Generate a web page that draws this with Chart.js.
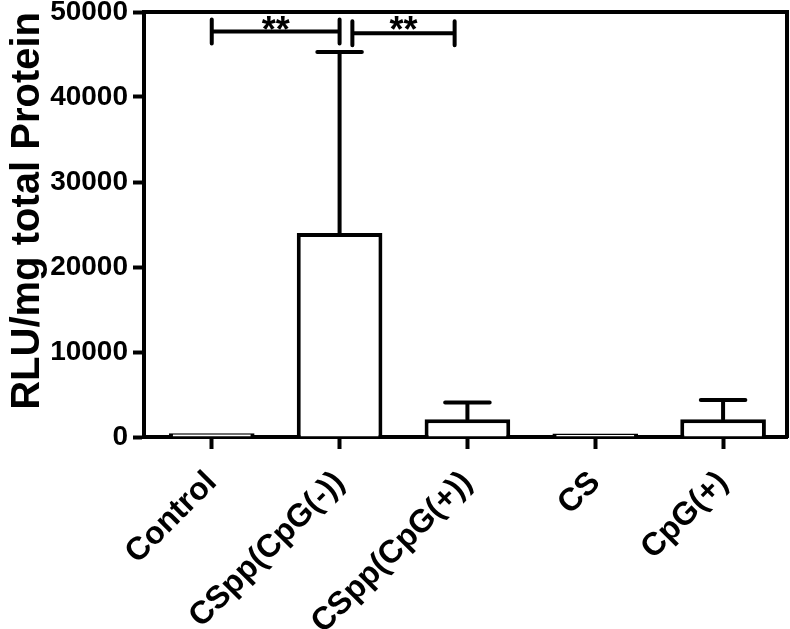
<!DOCTYPE html>
<html>
<head>
<meta charset="utf-8">
<script src="https://cdn.jsdelivr.net/npm/chart.js@4.4.1/dist/chart.umd.min.js"></script>
<style>
  html, body { margin: 0; padding: 0; background: #fff; }
  #wrap { width: 790px; height: 629px; }
</style>
</head>
<body>
<div id="wrap"><canvas id="chart"></canvas></div>
<script>
const categories = ['Control', 'CSpp(CpG(-))', 'CSpp(CpG(+))', 'CS', 'CpG(+)'];
const means = [450, 24000, 2100, 420, 2100];
const errUp = [0, 21300, 1950, 0, 2250];
const yTicks = [0, 10000, 20000, 30000, 40000, 50000];

// significance brackets (category index positions, bracket height)
const sigFrom = [0, 1.1];
const sigTo = [1, 1.9];
const sigY = [47700, 47500];
const sigText = ['**', '**'];
const sigTextY = [46500, 46500];

const FONT = "'Liberation Sans', Arial, Helvetica, sans-serif";

const errorBars = {
  id: 'errorBars',
  afterDatasetsDraw(chart) {
    const { ctx, scales: { y } } = chart;
    const meta = chart.getDatasetMeta(0);
    ctx.save();
    ctx.strokeStyle = '#000';
    ctx.lineWidth = 4;
    ctx.lineCap = 'round';
    meta.data.forEach((bar, i) => {
      if (!errUp[i]) return;
      const top = y.getPixelForValue(means[i] + errUp[i]);
      const base = y.getPixelForValue(means[i]);
      const half = bar.width * 0.26;
      ctx.beginPath();
      ctx.moveTo(bar.x, base);
      ctx.lineTo(bar.x, top);
      ctx.moveTo(bar.x - half, top);
      ctx.lineTo(bar.x + half, top);
      ctx.stroke();
    });
    ctx.restore();
  }
};

const sigBrackets = {
  id: 'sigBrackets',
  afterDatasetsDraw(chart) {
    const { ctx, scales: { x, y } } = chart;
    ctx.save();
    ctx.strokeStyle = '#000';
    ctx.fillStyle = '#000';
    ctx.lineWidth = 4;
    ctx.lineCap = 'round';
    ctx.font = 'bold 36px ' + FONT;
    ctx.textAlign = 'center';
    ctx.textBaseline = 'alphabetic';
    sigFrom.forEach((from, i) => {
      const x1 = x.getPixelForValue(from);
      const x2 = x.getPixelForValue(sigTo[i]);
      const yy = y.getPixelForValue(sigY[i]);
      ctx.beginPath();
      ctx.moveTo(x1, yy - 12);
      ctx.lineTo(x1, yy + 12);
      ctx.moveTo(x2, yy - 12);
      ctx.lineTo(x2, yy + 12);
      ctx.moveTo(x1, yy);
      ctx.lineTo(x2, yy);
      ctx.stroke();
      ctx.fillText(sigText[i], (x1 + x2) / 2, y.getPixelForValue(sigTextY[i]));
    });
    ctx.restore();
  }
};

new Chart(document.getElementById('chart'), {
  type: 'bar',
  data: {
    labels: categories,
    datasets: [{
      data: means,
      backgroundColor: '#fff',
      borderColor: '#000',
      borderWidth: 4,
      barPercentage: 0.67,
      categoryPercentage: 1
    }]
  },
  options: {
    responsive: true,
    maintainAspectRatio: false,
    animation: false,
    layout: { padding: { top: 12, right: 3, left: 0, bottom: 0 } },
    plugins: { legend: { display: false }, tooltip: { enabled: false } },
    scales: {
      x: {
        z: 1,
        grid: { display: true, offset: false, drawOnChartArea: false, drawTicks: true,
                tickLength: 12, tickWidth: 4, tickColor: '#000' },
        border: { display: true, color: '#000', width: 4 },
        ticks: { color: '#000', font: { family: FONT, size: 32, weight: 'bold' },
                 minRotation: 45, maxRotation: 45, autoSkip: false, padding: 15 },
        afterFit(s) {
          s.height = 192;
          s.paddingLeft = 0;
          s.paddingRight = 0;
          // categories sit a little right of the axis origin, as in the original
          s._startValue = -0.53;
          s._valueRange = 5.03;
        }
      },
      y: {
        min: 0, max: 50000,
        grid: { display: true, drawOnChartArea: false, drawTicks: true,
                tickLength: 11, tickWidth: 4, tickColor: '#000' },
        border: { display: true, color: '#000', width: 4 },
        ticks: { color: '#000', font: { family: FONT, size: 28, weight: 'bold' },
                 padding: 5, callback: v => String(v) },
        afterBuildTicks(s) { s.ticks = yTicks.map(v => ({ value: v })); },
        title: { display: true, text: 'RLU/mg total Protein', color: '#000', align: 'end',
                 font: { family: FONT, size: 40, weight: 'bold' }, padding: { top: 4, bottom: 0 } },
        afterFit(s) {
          s.width = 144;
          s.paddingTop = 0;
          s.paddingBottom = 0;
        }
      },
      xTop: {
        type: 'linear', position: 'top', display: true,
        grid: { display: false, drawTicks: false },
        ticks: { display: false },
        border: { display: true, color: '#000', width: 4 },
        afterFit(s) { s.height = 0; }
      },
      yRight: {
        type: 'linear', position: 'right', display: true,
        grid: { display: false, drawTicks: false },
        ticks: { display: false },
        border: { display: true, color: '#000', width: 4 },
        afterFit(s) { s.width = 0; }
      }
    }
  },
  plugins: [errorBars, sigBrackets]
});
</script>
</body>
</html>
